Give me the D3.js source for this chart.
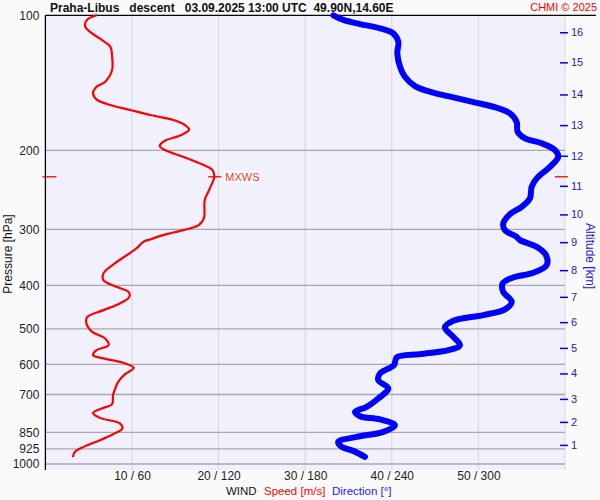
<!DOCTYPE html>
<html>
<head>
<meta charset="utf-8">
<script src="https://cdn.jsdelivr.net/npm/d3@7"></script>
<style>
  html, body { margin: 0; padding: 0; background: #fafafa; }
  svg { display: block; font-family: "Liberation Sans", Arial, sans-serif; }
</style>
</head>
<body>
<svg id="chart" width="600" height="500"></svg>
<script>
// ---- data ----
const pressureTicks = [100, 200, 300, 400, 500, 600, 700, 850, 925, 1000];
const speedTicks = [10, 20, 30, 40, 50, 60];
const speedTickLabels = ["10 / 60", "20 / 120", "30 / 180", "40 / 240", "50 / 300", ""];
const altitudeKm = [1, 2, 3, 4, 5, 6, 7, 8, 9, 10, 11, 12, 13, 14, 15, 16];
const altitudePressure = [906.7, 805.7, 715.9, 628.3, 551.1, 482.9, 424.1, 369.8, 320.3, 277.8, 239.9, 205.6, 175.7, 150.1, 127.3, 109.1];

// wind speed profile [m/s] against pressure [hPa]
const speedPressure = [100, 102.4, 106.0, 109.7, 113.5, 117.5, 123.7, 132.4, 140.6, 144.3, 149.3, 153.9, 158.5, 162.6, 166.8, 171.2, 175.6, 179.6, 184.9, 190.4, 195.6, 199.7, 206.7, 215.3, 221.3, 229.0, 245.2, 258.1, 283.6, 293.5, 301.1, 307.4, 310.6, 315.9, 319.8, 330.8, 342.4, 357.3, 376.1, 389.2, 402.9, 413.3, 424.0, 438.7, 454.0, 471.3, 490.4, 507.5, 525.0, 543.4, 557.5, 572.0, 581.7, 595.0, 610.5, 630.7, 656.1, 684.7, 702.5, 735.6, 752.0, 769.2, 789.2, 812.2, 833.3, 858.1, 885.0, 915.9, 939.7, 960.8];
const speedValues = [5.9, 4.8, 4.6, 5.4, 6.5, 7.5, 7.7, 7.7, 6.9, 5.9, 5.5, 5.9, 7.5, 9.8, 12.1, 14.8, 16.1, 16.6, 15.7, 13.8, 13.2, 13.8, 15.9, 18.2, 19.3, 19.5, 18.9, 18.4, 18.3, 17.7, 15.9, 14.0, 13.2, 12.1, 11.3, 10.5, 9.4, 8.0, 6.7, 6.7, 8.2, 9.6, 9.7, 8.6, 6.7, 4.8, 4.8, 5.4, 6.9, 7.3, 5.9, 5.5, 6.7, 9.0, 10.2, 9.2, 8.4, 8.0, 7.8, 7.7, 6.5, 5.5, 6.3, 8.6, 8.9, 7.8, 6.3, 4.4, 3.4, 3.2];

// wind direction profile [deg] against pressure [hPa]
const dirPressure = [100, 102.4, 104.6, 106.9, 109.7, 114.5, 121.5, 130.2, 137.1, 143.8, 148.8, 152.4, 156.7, 160.7, 165.4, 172.7, 181.8, 188.0, 192.9, 199.7, 206.7, 217.6, 230.9, 241.1, 255.9, 267.2, 277.4, 291.0, 301.1, 311.7, 317.0, 328.1, 342.4, 360.4, 374.9, 383.9, 395.9, 413.3, 435.1, 452.4, 465.8, 479.6, 496.2, 520.7, 543.4, 557.5, 569.0, 578.8, 602.1, 628.4, 650.4, 678.7, 714.5, 745.9, 765.3, 782.4, 795.7, 819.3, 848.0, 870.1, 892.7, 915.9, 934.9, 964.2];
const dirValues = [199.5, 206.4, 218.0, 231.8, 241.0, 244.5, 243.8, 245.7, 249.1, 256.1, 268.7, 282.6, 298.8, 312.7, 321.9, 326.5, 327.2, 332.3, 343.8, 353.1, 355.3, 349.6, 340.4, 336.9, 335.7, 330.0, 321.9, 317.2, 318.4, 326.5, 328.8, 340.4, 346.8, 347.3, 338.0, 324.2, 316.8, 317.2, 323.1, 318.4, 303.4, 282.6, 276.8, 282.6, 287.2, 279.1, 259.5, 243.4, 241.5, 231.8, 230.6, 237.6, 230.6, 222.6, 214.5, 218.0, 231.8, 242.2, 234.1, 215.7, 202.9, 205.3, 213.3, 221.4];

// maximum wind
const mxwsPressure = 229.0;
const mxwsSpeed = 19.5;

// ---- layout ----
const svg = d3.select("#chart");
const pLeft = 45.4, pRight = 565, pTop = 15.3, pBottom = 464, frameBottom = 470;

const x = d3.scaleLinear().domain([0, 60]).range([pLeft, pRight]);
const xDir = d3.scaleLinear().domain([0, 360]).range([pLeft, pRight]);
const y = d3.scaleLog().domain([100, 1000]).range([pTop, pBottom]);

// plot background
svg.append("rect").attr("x", pLeft).attr("y", pTop).attr("width", pRight - pLeft).attr("height", frameBottom - pTop).attr("fill", "#f1f1fd");

// vertical grid lines
svg.append("g").selectAll("line").data(speedTicks).join("line")
  .attr("x1", d => x(d)).attr("x2", d => x(d))
  .attr("y1", pTop).attr("y2", frameBottom)
  .attr("stroke", "#d6d6d6").attr("stroke-width", 1);

// horizontal grid lines
svg.append("g").selectAll("line").data(pressureTicks.filter(p => p > 100)).join("line")
  .attr("x1", pLeft).attr("x2", pRight)
  .attr("y1", d => y(d)).attr("y2", d => y(d))
  .attr("stroke", "#a8a8a8").attr("stroke-width", 1.3);

// top frame line and left axis line
svg.append("line").attr("x1", pLeft).attr("x2", 596).attr("y1", pTop).attr("y2", pTop).attr("stroke", "#000").attr("stroke-width", 1.3);
svg.append("line").attr("x1", pLeft).attr("x2", pLeft).attr("y1", pTop).attr("y2", frameBottom).attr("stroke", "#000").attr("stroke-width", 1.3);

// left axis labels
const yAxis = d3.axisLeft(y).tickValues(pressureTicks).tickFormat(d3.format("d")).tickSize(0).tickPadding(6);
const gy = svg.append("g").attr("transform", `translate(${pLeft},0)`).call(yAxis);
gy.select(".domain").remove();
gy.selectAll("text").attr("font-size", 12).attr("fill", "#222").attr("font-family", "Liberation Sans, Arial, sans-serif");

// bottom axis labels
const xAxis = d3.axisBottom(x).tickValues(speedTicks).tickFormat((d, i) => speedTickLabels[i]).tickSize(0).tickPadding(7);
const gx = svg.append("g").attr("transform", `translate(0,${pBottom})`).call(xAxis);
gx.select(".domain").remove();
gx.selectAll("text").attr("font-size", 12).attr("fill", "#222").attr("font-family", "Liberation Sans, Arial, sans-serif");

// right altitude axis
const altAxis = d3.axisRight(y).tickValues(altitudePressure).tickFormat((d, i) => altitudeKm[i]).tickSize(8).tickPadding(3);
const ga = svg.append("g").attr("transform", `translate(560,0)`).call(altAxis);
ga.select(".domain").remove();
ga.selectAll("line").attr("stroke", "#0000ff").attr("stroke-width", 1.5);
ga.selectAll("text").attr("font-size", 11).attr("fill", "#2020d0").attr("font-family", "Liberation Sans, Arial, sans-serif");

// clip for curves
svg.append("clipPath").attr("id", "clip").append("rect").attr("x", pLeft).attr("y", pTop - 4).attr("width", pRight - pLeft + 4).attr("height", frameBottom - pTop + 4);

// direction curve (thick blue)
const dirLine = d3.line().x(d => xDir(d[1])).y(d => y(d[0])).curve(d3.curveCatmullRom.alpha(0.5));
svg.append("path").datum(dirPressure.map((p, i) => [p, dirValues[i]]))
  .attr("d", dirLine).attr("fill", "none").attr("stroke", "#0000ff").attr("stroke-width", 6)
  .attr("stroke-linecap", "round").attr("stroke-linejoin", "round").attr("clip-path", "url(#clip)");

// speed curve (red)
const spdLine = d3.line().x(d => x(d[1])).y(d => y(d[0])).curve(d3.curveCatmullRom.alpha(0.5));
svg.append("path").datum(speedPressure.map((p, i) => [p, speedValues[i]]))
  .attr("d", spdLine).attr("fill", "none").attr("stroke", "#ff0000").attr("stroke-width", 2.2)
  .attr("stroke-linecap", "round").attr("stroke-linejoin", "round");

// MXWS marker
const my = y(mxwsPressure), mx = x(mxwsSpeed);
svg.append("line").attr("x1", mx - 6).attr("x2", mx + 7).attr("y1", my).attr("y2", my).attr("stroke", "#ff0000").attr("stroke-width", 1.3);
svg.append("line").attr("x1", pLeft - 3).attr("x2", pLeft + 11).attr("y1", my).attr("y2", my).attr("stroke", "#ff0000").attr("stroke-width", 1.3);
svg.append("line").attr("x1", 555).attr("x2", 568).attr("y1", my).attr("y2", my).attr("stroke", "#ff0000").attr("stroke-width", 1.3);
svg.append("rect").attr("x", mx + 10).attr("y", my - 6).attr("width", 33).attr("height", 12).attr("fill", "#ffffff");
svg.append("text").attr("x", mx + 11).attr("y", my + 4).attr("font-size", 11).attr("fill", "#ff3030").text("MXWS");

// title
svg.append("text").attr("x", 50).attr("y", 12).attr("font-size", 12).attr("font-weight", "bold").attr("fill", "#111")
  .attr("xml:space", "preserve").style("white-space", "pre")
  .text("Praha-Libus   descent   03.09.2025 13:00 UTC  49.90N,14.60E");
svg.append("text").attr("x", 597).attr("y", 11).attr("text-anchor", "end").attr("font-size", 11).attr("fill", "#ff0000").text("CHMI © 2025");

// axis titles
svg.append("text").attr("transform", "translate(12,254) rotate(-90)").attr("text-anchor", "middle").attr("font-size", 12).attr("fill", "#111").text("Pressure [hPa]");
svg.append("text").attr("transform", "translate(586,256) rotate(90)").attr("text-anchor", "middle").attr("font-size", 12).attr("fill", "#2020d0").text("Altitude [km]");

// bottom legend
svg.append("text").attr("x", 226).attr("y", 495).attr("font-size", 11.5).attr("fill", "#111").text("WIND");
svg.append("text").attr("x", 264).attr("y", 495).attr("font-size", 11.5).attr("fill", "#ff0000").text("Speed [m/s]");
svg.append("text").attr("x", 332).attr("y", 495).attr("font-size", 11.5).attr("fill", "#2020ff").text("Direction [°]");
</script>
</body>
</html>
